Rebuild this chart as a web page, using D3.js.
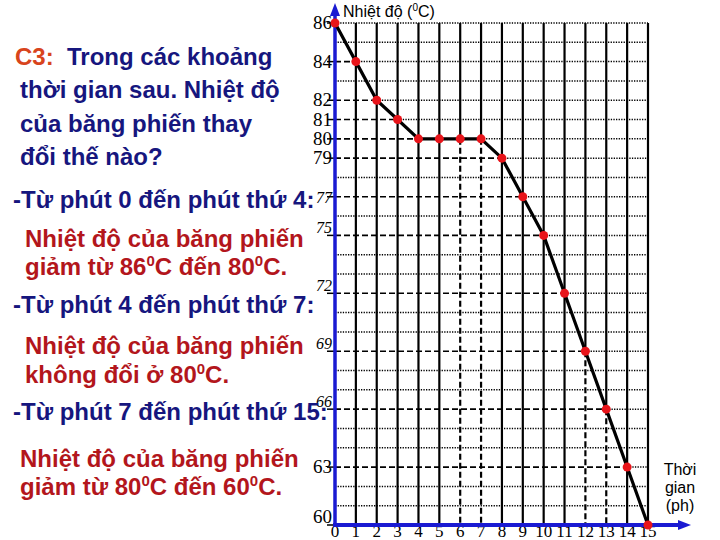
<!DOCTYPE html>
<html>
<head>
<meta charset="utf-8">
<script src="https://cdn.jsdelivr.net/npm/d3@7"></script>
<style>
  body { margin: 0; background: #fff; }
  svg { display: block; }
</style>
</head>
<body>
<svg id="chart" width="720" height="540"></svg>
<script>
// time in minutes and temperature of naphthalene
const minutes = [0, 1, 2, 3, 4, 5, 6, 7, 8, 9, 10, 11, 12, 13, 14, 15];
const temps = [86, 84, 82, 81, 80, 80, 80, 80, 79, 77, 75, 72, 69, 66, 63, 60];
const yTicks = [86, 84, 82, 81, 80, 79, 77, 75, 72, 69, 66, 63, 60];
const xTicks = [0, 1, 2, 3, 4, 5, 6, 7, 8, 9, 10, 11, 12, 13, 14, 15];
// vertical lines drawn dashed below their point
const dashedDrops = [6, 7, 12, 13];
// tick labels sitting a bit above their line
const raisedTicks = [75, 72, 69, 66, 60];
const italicTicks = [77, 75, 72, 69, 66];

const navy = "#16167e", red = "#b3161c", orange = "#d8441c", blue = "#1a1ad2";
const serif = "'Liberation Serif', 'Times New Roman', serif";
const sans = "'Liberation Sans', Arial, sans-serif";

// text on the left, {..} = superscript
const notes = [
    { t: "C3:", c: orange, x: 15, y: 65 },
    { t: "Trong các khoảng", c: navy, x: 67, y: 65 },
    { t: "thời gian sau. Nhiệt độ", c: navy, x: 20, y: 98 },
    { t: "của băng phiến thay", c: navy, x: 20, y: 132 },
    { t: "đổi thế nào?", c: navy, x: 20, y: 165 },
    { t: "-Từ phút 0 đến phút thứ 4:", c: navy, x: 13, y: 208 },
    { t: "Nhiệt độ của băng phiến", c: red, x: 25, y: 247 },
    { t: "giảm từ 86{0}C đến 80{0}C.", c: red, x: 25, y: 275 },
    { t: "-Từ phút 4 đến phút thứ 7:", c: navy, x: 13, y: 313 },
    { t: "Nhiệt độ của băng phiến", c: red, x: 25, y: 354 },
    { t: "không đổi ở 80{0}C.", c: red, x: 25, y: 383 },
    { t: "-Từ phút 7 đến phút thứ 15:", c: navy, x: 13, y: 420 },
    { t: "Nhiệt độ của băng phiến", c: red, x: 20, y: 467 },
    { t: "giảm từ 80{0}C đến 60{0}C.", c: red, x: 20, y: 495 }
];

const svg = d3.select("#chart");

const x = d3.scaleLinear().domain([0, 15]).range([335, 648]);
const y = d3.scaleLinear().domain([60, 86]).range([525, 23]);

// writes a string into a text node, raising the {..} parts
function richText(sel, str, supSize, supRise) {
    const parts = str.split(/(\{[^}]*\})/).filter(p => p.length);
    let raised = false;
    parts.forEach(p => {
        if (p[0] === "{") {
            sel.append("tspan").attr("dy", -supRise).attr("font-size", supSize).text(p.slice(1, -1));
            raised = true;
        } else {
            const s = sel.append("tspan").text(p);
            if (raised) s.attr("dy", supRise);
            raised = false;
        }
    });
}

// grid
const grid = svg.append("g");
const levels = d3.range(61, 87);
levels.forEach(v => {
    const idx = temps.indexOf(v);
    const isTick = yTicks.includes(v);
    const xDash = isTick && idx >= 0 ? minutes[idx] : 0;
    if (xDash > 0) {
        grid.append("line")
            .attr("x1", x(0)).attr("x2", x(xDash))
            .attr("y1", y(v)).attr("y2", y(v))
            .attr("stroke", "#000").attr("stroke-width", 1.6)
            .attr("stroke-dasharray", "6 3");
    }
    grid.append("line")
        .attr("x1", x(xDash)).attr("x2", x(15))
        .attr("y1", y(v)).attr("y2", y(v))
        .attr("stroke", "#000").attr("stroke-width", 1.5)
        .attr("stroke-dasharray", "1.3 1.3");
});

minutes.filter(m => m > 0).forEach(m => {
    const split = dashedDrops.includes(m) ? temps[m] : 60;
    grid.append("line")
        .attr("x1", x(m)).attr("x2", x(m))
        .attr("y1", y(86)).attr("y2", y(split))
        .attr("stroke", "#000").attr("stroke-width", 2.2);
    if (split > 60) {
        grid.append("line")
            .attr("x1", x(m)).attr("x2", x(m))
            .attr("y1", y(split)).attr("y2", y(60))
            .attr("stroke", "#000").attr("stroke-width", 2.2)
            .attr("stroke-dasharray", "6 3");
    }
});

// y tick marks and labels
const yAx = svg.append("g");
yTicks.forEach(v => {
    yAx.append("line")
        .attr("x1", x(0) - 8).attr("x2", x(0))
        .attr("y1", y(v)).attr("y2", y(v))
        .attr("stroke", "#000").attr("stroke-width", 1.5);
    yAx.append("text")
        .attr("x", x(0) - 3)
        .attr("y", y(v) + (raisedTicks.includes(v) ? -2 : 6))
        .attr("text-anchor", "end")
        .style("font-family", serif)
        .style("font-size", (italicTicks.includes(v) ? 16 : 19) + "px")
        .style("font-style", italicTicks.includes(v) ? "italic" : "normal")
        .attr("fill", "#000")
        .text(v);
});

// x tick labels
svg.append("g").selectAll("text")
    .data(xTicks)
    .enter()
    .append("text")
    .attr("x", d => x(d))
    .attr("y", 537)
    .attr("text-anchor", "middle")
    .style("font-family", serif)
    .style("font-size", "17px")
    .attr("fill", "#000")
    .text(d => d);

// axes in blue with arrows
svg.append("line")
    .attr("x1", x(0)).attr("x2", x(0))
    .attr("y1", y(60) + 2).attr("y2", 14)
    .attr("stroke", blue).attr("stroke-width", 3.5);
svg.append("path")
    .attr("d", `M${x(0)},3 L${x(0) - 5},16 L${x(0) + 5},16 Z`)
    .attr("fill", blue);
svg.append("line")
    .attr("x1", x(0) - 2).attr("x2", 680)
    .attr("y1", y(60)).attr("y2", y(60))
    .attr("stroke", blue).attr("stroke-width", 4);
svg.append("path")
    .attr("d", `M691,${y(60)} L678,${y(60) - 5} L678,${y(60) + 5} Z`)
    .attr("fill", blue);

// data line and points
const line = d3.line().x((d, i) => x(minutes[i])).y(d => y(d));
svg.append("path")
    .attr("d", line(temps))
    .attr("fill", "none")
    .attr("stroke", "#000")
    .attr("stroke-width", 3.2);

svg.append("g").selectAll("circle")
    .data(temps)
    .enter()
    .append("circle")
    .attr("cx", (d, i) => x(minutes[i]))
    .attr("cy", d => y(d))
    .attr("r", 4.5)
    .attr("fill", "#e8141a");

// axis titles
const yTitle = svg.append("text")
    .attr("x", 343).attr("y", 17)
    .style("font-family", sans)
    .style("font-size", "16px")
    .attr("fill", "#000");
richText(yTitle, "Nhiệt độ ({0}C)", 10, 6);

const xTitle = svg.append("text")
    .style("font-family", sans)
    .style("font-size", "16px")
    .attr("fill", "#000")
    .attr("text-anchor", "middle");
["Thời", "gian", "(ph)"].forEach((w, i) => {
    xTitle.append("tspan").attr("x", 680).attr("y", 475 + i * 18).text(w);
});

// left side notes
notes.forEach(n => {
    const t = svg.append("text")
        .attr("x", n.x).attr("y", n.y)
        .style("font-family", sans)
        .style("font-weight", "bold")
        .style("font-size", "24px")
        .attr("fill", n.c);
    richText(t, n.t, 15, 9);
});
</script>
</body>
</html>
